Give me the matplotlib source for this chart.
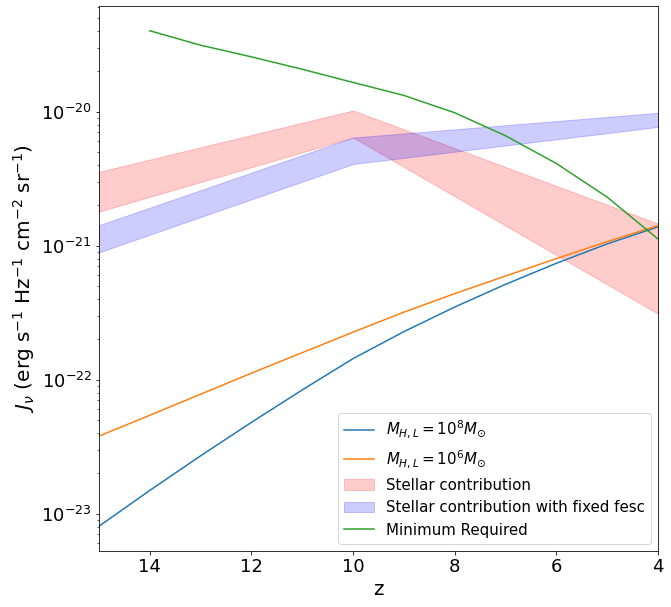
import matplotlib
matplotlib.use("Agg")
import matplotlib.pyplot as plt
from matplotlib.ticker import NullFormatter

# Data
z_line = [15, 14, 13, 12, 11, 10, 9, 8, 7, 6, 5, 4]
j_mh8 = [8.05e-24, 1.49e-23, 2.70e-23, 4.80e-23, 8.38e-23, 1.435e-22, 2.28e-22,
         3.48e-22, 5.14e-22, 7.38e-22, 1.03e-21, 1.38e-21]
j_mh6 = [3.79e-23, 5.42e-23, 7.78e-23, 1.117e-22, 1.59e-22, 2.26e-22, 3.19e-22,
         4.38e-22, 5.93e-22, 8.0e-22, 1.07e-21, 1.41e-21]

z_band = [15, 10, 4]
stellar_lo = [1.79e-21, 6.4e-21, 3.1e-22]
stellar_hi = [3.55e-21, 1.02e-20, 1.46e-21]
fixed_lo = [8.9e-22, 4.06e-21, 7.68e-21]
fixed_hi = [1.42e-21, 6.4e-21, 9.8e-21]

z_min = [14, 13, 12, 11, 10, 9, 8, 7, 6, 5, 4]
j_min = [4.01e-20, 3.13e-20, 2.56e-20, 2.07e-20, 1.65e-20, 1.32e-20, 9.8e-21,
         6.6e-21, 4.1e-21, 2.3e-21, 1.12e-21]

fig = plt.figure(figsize=(671/72, 607/72), dpi=72)
ax = fig.add_axes([99/671, 1-551/607, (658-99)/671, (551-6)/607])

ax.plot(z_line, j_mh8, color='tab:blue', label=r'$M_{H,L}=10^{8}M_{\odot}$')
ax.plot(z_line, j_mh6, color='tab:orange', label=r'$M_{H,L}=10^{6}M_{\odot}$')
ax.fill_between(z_band, stellar_lo, stellar_hi, color='red', alpha=0.2,
                label='Stellar contribution')
ax.fill_between(z_band, fixed_lo, fixed_hi, color='blue', alpha=0.2,
                label='Stellar contribution with fixed fesc')
ax.plot(z_min, j_min, color='tab:green', label='Minimum Required')

ax.set_yscale('log')
ax.yaxis.set_minor_formatter(NullFormatter())
ax.set_xlim(15, 4)
ax.tick_params(axis='both', which='major', labelsize=18)
ax.set_xlabel('z', fontsize=20)
ax.set_ylabel(r'$J_{\nu}$ (erg s$^{-1}$ Hz$^{-1}$ cm$^{-2}$ sr$^{-1}$)', fontsize=20)
ax.legend(loc='lower right', fontsize=15)

fig.savefig('out.png', dpi=72)
